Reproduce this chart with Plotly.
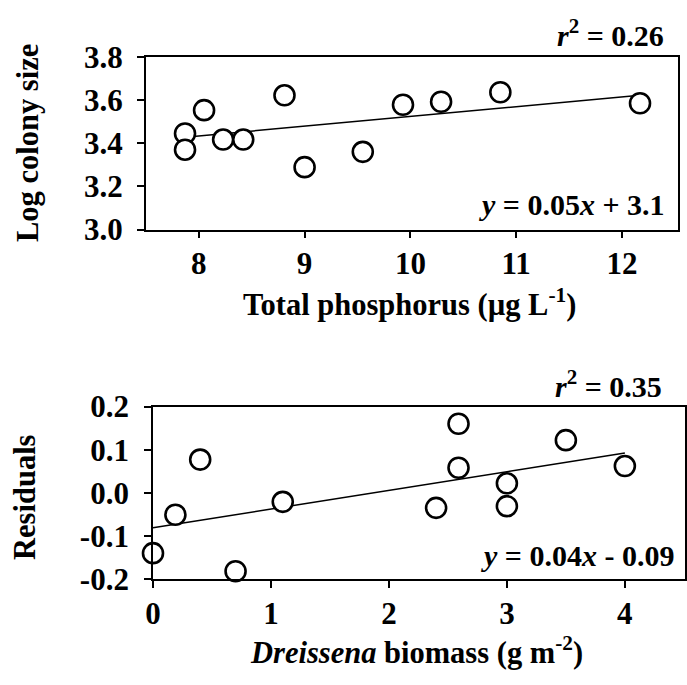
import plotly.graph_objects as go

# ---- Data: top panel ----
tp_x = [7.87, 7.87, 8.05, 8.23, 8.42, 8.81, 9.00, 9.55, 9.93, 10.29, 10.85, 12.17]
tp_y = [3.445, 3.370, 3.553, 3.417, 3.417, 3.622, 3.289, 3.360, 3.578, 3.592, 3.636, 3.585]
tp_fit_slope = 0.0451
tp_fit_intercept = 3.073
tp_fit_range = [7.87, 12.17]

# ---- Data: bottom panel ----
db_x = [0.0, 0.19, 0.40, 0.70, 1.10, 2.40, 2.59, 2.59, 3.00, 3.00, 3.50, 4.00]
db_y = [-0.140, -0.051, 0.077, -0.182, -0.021, -0.035, 0.160, 0.058, 0.022, -0.031, 0.122, 0.062]
db_fit_slope = 0.0433
db_fit_intercept = -0.081
db_fit_range = [0.0, 4.0]

top_xticks = [8, 9, 10, 11, 12]
top_yticks = [3.0, 3.2, 3.4, 3.6, 3.8]
bot_xticks = [0, 1, 2, 3, 4]
bot_yticks = [-0.2, -0.1, 0.0, 0.1, 0.2]

W, H = 687, 685
FONT = "Liberation Serif, Times New Roman, serif"

def px_x(p):
    return p / W

def px_y(p):
    return 1 - p / H

fig = go.Figure()

marker = dict(symbol="circle", size=20, color="white",
              line=dict(color="black", width=2.6))

# Top panel
fig.add_trace(go.Scatter(
    x=tp_fit_range,
    y=[tp_fit_slope * v + tp_fit_intercept for v in tp_fit_range],
    mode="lines", line=dict(color="black", width=1.5),
    xaxis="x", yaxis="y", showlegend=False, hoverinfo="skip"))
fig.add_trace(go.Scatter(x=tp_x, y=tp_y, mode="markers", marker=marker,
                         xaxis="x", yaxis="y", showlegend=False))

# Bottom panel
fig.add_trace(go.Scatter(
    x=db_fit_range,
    y=[db_fit_slope * v + db_fit_intercept for v in db_fit_range],
    mode="lines", line=dict(color="black", width=1.5),
    xaxis="x2", yaxis="y2", showlegend=False, hoverinfo="skip"))
fig.add_trace(go.Scatter(x=db_x, y=db_y, mode="markers", marker=marker,
                         xaxis="x2", yaxis="y2", showlegend=False,
                         cliponaxis=False))

tickfont = dict(family=FONT, size=31, color="black", weight="bold")

axis_common = dict(
    showline=True, linecolor="black", linewidth=1.8, mirror=True,
    ticks="outside", ticklen=7, tickwidth=1.5, tickcolor="black",
    showgrid=False, zeroline=False, tickfont=tickfont, fixedrange=True,
)

fig.update_layout(
    width=W, height=H,
    margin=dict(l=0, r=0, t=0, b=0),
    paper_bgcolor="white", plot_bgcolor="white",
    xaxis=dict(axis_common, domain=[px_x(139.5), px_x(678)], range=[7.5, 12.53],
               tickvals=top_xticks, ticktext=[str(v) for v in top_xticks],
               anchor="y", ticklabelstandoff=-2),
    yaxis=dict(axis_common, domain=[px_y(224), px_y(42)], range=[3.0, 3.8],
               tickvals=top_yticks, ticktext=[f"{v:.1f}" for v in top_yticks],
               anchor="x", ticklabelstandoff=8),
    xaxis2=dict(axis_common, domain=[px_x(146.7), px_x(685)], range=[0, 4.51],
                tickvals=bot_xticks, ticktext=[str(v) for v in bot_xticks],
                anchor="y2", ticklabelstandoff=-1),
    yaxis2=dict(axis_common, domain=[px_y(592.3), px_y(410.5)], range=[-0.2, 0.2],
                tickvals=bot_yticks, ticktext=[f"{v:.1f}" for v in bot_yticks],
                anchor="x2", ticklabelstandoff=9),
)

title_font = dict(family=FONT, size=30.5, color="black", weight="bold")
stat_font = dict(family=FONT, size=30, color="black", weight="bold")

annotations = [
    # axis titles
    dict(text="Total phosphorus (µg L<sup>-1</sup>)", x=px_x(406), y=px_y(301),
         xref="paper", yref="paper", showarrow=False, font=title_font,
         xanchor="center", yanchor="middle"),
    dict(text="Log colony size", x=px_x(20), y=px_y(133), textangle=-90,
         xref="paper", yref="paper", showarrow=False, font=title_font,
         xanchor="center", yanchor="middle"),
    dict(text="<i>Dreissena</i> biomass (g m<sup>-2</sup>)", x=px_x(413), y=px_y(668),
         xref="paper", yref="paper", showarrow=False, font=title_font,
         xanchor="center", yanchor="middle"),
    dict(text="Residuals", x=px_x(17), y=px_y(506), textangle=-90,
         xref="paper", yref="paper", showarrow=False, font=title_font,
         xanchor="center", yanchor="middle"),
    # statistics
    dict(text="<i>r</i><sup>2</sup> = 0.26", x=px_x(666), y=px_y(17),
         xref="paper", yref="paper", showarrow=False, font=stat_font,
         xanchor="right", yanchor="middle"),
    dict(text="<i>y</i> = 0.05<i>x</i> + 3.1", x=px_x(667), y=px_y(198),
         xref="paper", yref="paper", showarrow=False, font=stat_font,
         xanchor="right", yanchor="middle"),
    dict(text="<i>r</i><sup>2</sup> = 0.35", x=px_x(664), y=px_y(387),
         xref="paper", yref="paper", showarrow=False, font=stat_font,
         xanchor="right", yanchor="middle"),
    dict(text="<i>y</i> = 0.04<i>x</i> - 0.09", x=px_x(676), y=px_y(567),
         xref="paper", yref="paper", showarrow=False, font=stat_font,
         xanchor="right", yanchor="middle"),
]
fig.update_layout(annotations=annotations)

fig.write_html("out.html")
